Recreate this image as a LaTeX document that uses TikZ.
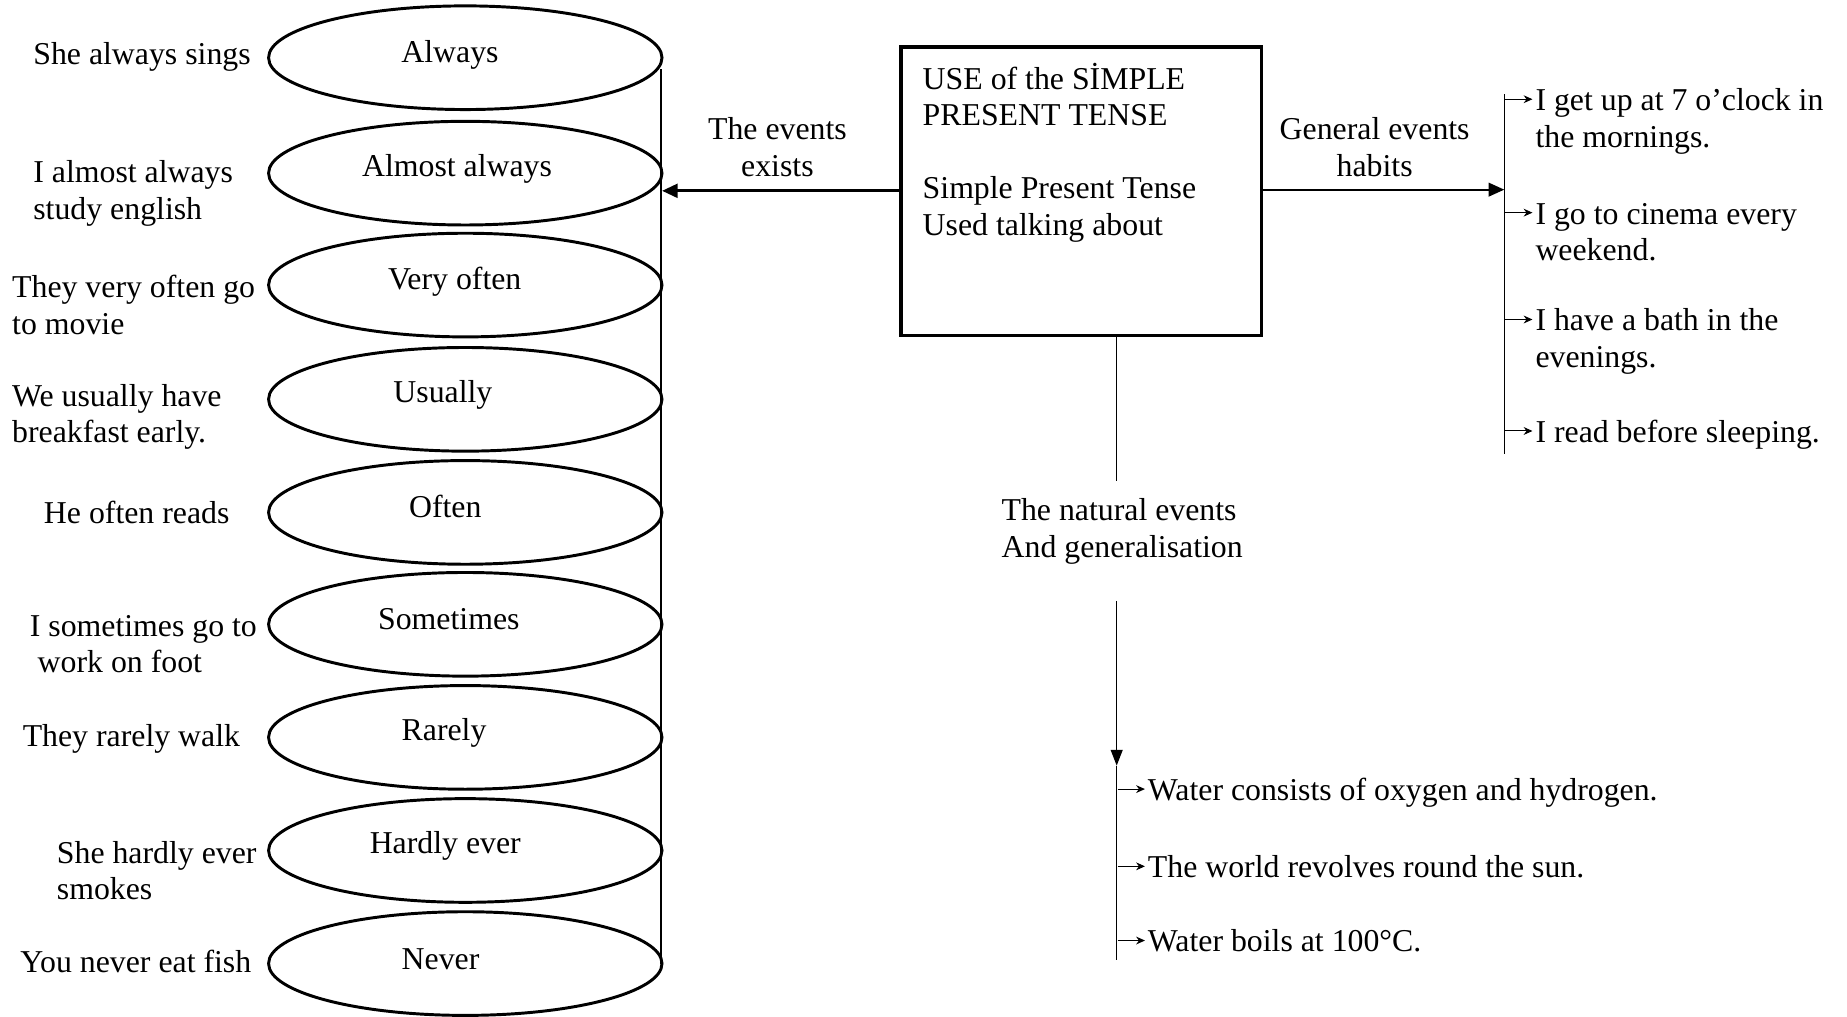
\documentclass[tikz,border=0pt]{standalone}
\usepackage{fontspec}
\setmainfont{Liberation Serif}
\usetikzlibrary{shapes.geometric,arrows.meta}
\newcommand{\rarr}{\tikz[baseline=0pt,x=1pt,y=1pt]\draw[line width=0.5pt,-{Stealth[length=4.5pt,width=4pt]}] (0,0.36em) -- (0.86em,0.36em);\kern0.08em}
\begin{document}
\begin{tikzpicture}[x=0.6pt,y=-0.6pt,
 txt/.style={inner sep=0pt, font=\fontsize{16.2}{18.6}\selectfont, align=left, yshift=-1.8pt},
 oval/.style={ellipse, draw, line width=1.5pt, minimum width=200.4pt, minimum height=52.8pt, inner sep=0pt},
 thinline/.style={line width=0.7pt}
]
\useasboundingbox (0,0) rectangle (1568,863);

% ellipses
\foreach \n/\y in {1/49,2/147,3/242,4/339,5/435,6/530,7/626,8/722,9/818}{
  \node[oval] (e\n) at (395,\y) {};
}
\node[txt] (l1) at (382,44) {Always};
\node[txt] (l2) at (388,140) {Almost always};
\node[txt] (l3) at (386,236) {Very often};
\node[txt] (l4) at (376,332) {Usually};
\node[txt] (l5) at (378,427) {Often};
\node[txt] (l6) at (381,523) {Sometimes};
\node[txt] (l7) at (377,619) {Rarely};
\node[txt] (l8) at (378,715) {Hardly ever};
\node[txt] (l9) at (374,811) {Never};

% examples left
\node[txt,anchor=west] (x1) at (28,45) {She always sings};
\node[txt,anchor=west] (x2) at (28,161) {I almost always\\study english};
\node[txt,anchor=west] (x3) at (10,256) {They very often go\\to movie};
\node[txt,anchor=west] (x4) at (10,351) {We usually have\\breakfast early.};
\node[txt,anchor=west] (x5) at (37,432) {He often reads};
\node[txt,anchor=west] (x6) at (25,544) {I sometimes go to\\\hspace*{4pt}work on foot};
\node[txt,anchor=west] (x7) at (19,624) {They rarely walk};
\node[txt,anchor=west] (x8) at (48,736) {She hardly ever\\smokes};
\node[txt,anchor=west] (x9) at (17,813) {You never eat fish};

% vertical spine
\coordinate (vtop) at (561,59);
\coordinate (vbot) at (561,818);
\draw[thinline] (vtop) -- (vbot);

% central box
\node[draw, line width=1.8pt, minimum width=183.6pt, minimum height=147pt, inner sep=0pt] (box) at (918,162.5) {};
\node[txt,anchor=north west, yshift=1.8pt] (boxtxt) at (783,53) {USE of the SİMPLE\\PRESENT TENSE\\[18.6pt]Simple Present Tense\\Used talking about};

% left arrow
\coordinate (lend) at (562,162);
\draw[line width=1.6pt, -{Triangle[length=8pt,width=7pt]}] (box.west |- lend) -- (lend);
\node[txt, align=center] (evt) at (660,122) {The events\\exists};

% right arrow
\coordinate (rend) at (1277,161);
\draw[line width=0.9pt, -{Triangle[length=8pt,width=7pt]}] (box.east |- rend) -- (rend);
\node[txt, align=center] (gen) at (1167,122) {General events\\habits};
\coordinate (rtop) at (1277,80);
\coordinate (rbot) at (1277,385);
\draw[thinline] (rtop) -- (rbot);
\node[txt,anchor=west] (r1) at (1277,100) {\rarr I get up at 7 o’clock in\\\phantom{\rarr}the mornings.};
\node[txt,anchor=west] (r2) at (1277,194) {\rarr I go to cinema every\\\phantom{\rarr}weekend.};
\node[txt,anchor=west] (r3) at (1277,287) {\rarr I have a bath in the\\\phantom{\rarr}evenings.};
\node[txt,anchor=west] (r4) at (1277,366) {\rarr I read before sleeping.};

% bottom branch
\coordinate (b1) at (948,408);
\draw[thinline] (box.south -| b1) -- (b1);
\node[txt,anchor=west] (nat) at (850,448) {The natural events\\And generalisation};
\coordinate (b2) at (948,510);
\coordinate (b3) at (948,650);
\coordinate (b4) at (948,815);
\draw[thinline, -{Triangle[length=8pt,width=6pt]}] (b2) -- (b3);
\draw[thinline] (b3) -- (b4);
\node[txt,anchor=west] (w1) at (948,670) {\rarr Water consists of oxygen and hydrogen.};
\node[txt,anchor=west] (w2) at (948,733) {\rarr The world revolves round the sun.};
\node[txt,anchor=west] (w3) at (948,796) {\rarr Water boils at 100°C.};
\end{tikzpicture}
\end{document}
